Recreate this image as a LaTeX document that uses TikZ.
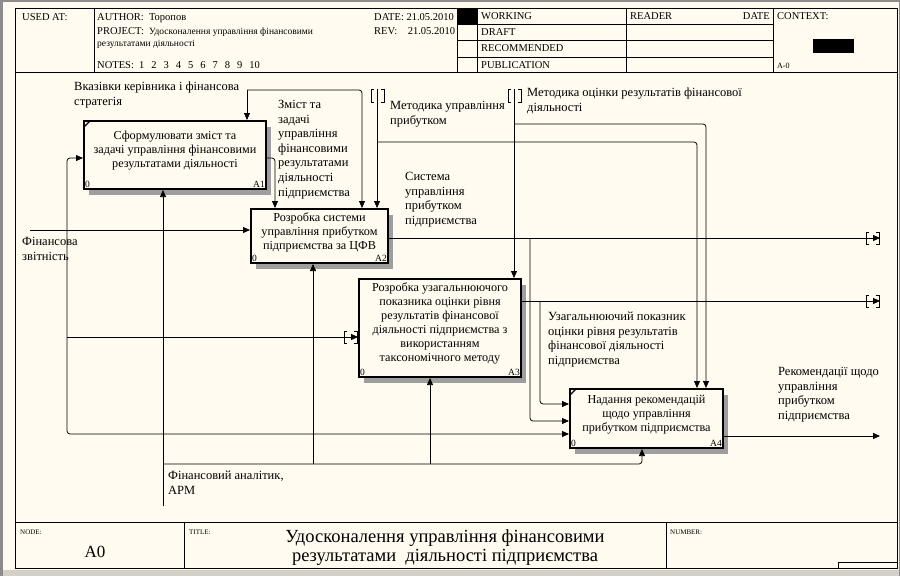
\documentclass[tikz,border=0pt]{standalone}
\usepackage{fontspec}
\setmainfont{Liberation Serif}
\usetikzlibrary{arrows.meta,calc,patterns}
\definecolor{paper}{HTML}{FFFBF0}
\definecolor{winGray}{HTML}{D4D0C8}
\newcommand{\brkV}[1]{%
  \draw[brk] ($(#1)+(-3,0)$) -- ($(#1)+(-6,0)$) -- ($(#1)+(-6,13)$) -- ($(#1)+(-3,13)$);
  \draw[brk] ($(#1)+(4,0)$) -- ($(#1)+(7,0)$) -- ($(#1)+(7,13)$) -- ($(#1)+(4,13)$);}
\newcommand{\brkH}[1]{%
  \draw[brk] ($(#1)+(-11,-6)$) -- ($(#1)+(-14,-6)$) -- ($(#1)+(-14,6)$) -- ($(#1)+(-11,6)$);
  \draw[brk] ($(#1)+(-4,-6)$) -- ($(#1)+(-1,-6)$) -- ($(#1)+(-1,6)$) -- ($(#1)+(-4,6)$);}
\begin{document}
\begin{tikzpicture}[x=1pt,y=-1pt,
  fbox/.style={draw=black,line width=2pt,fill=paper,anchor=north west,inner sep=0pt},
  shadowbox/.style={fill=black!38},
  btext/.style={align=center,font=\fontsize{12.2}{14}\selectfont,inner sep=0pt},
  lbl/.style={align=left,anchor=north west,font=\fontsize{12.5}{14.6}\selectfont,inner sep=0pt},
  corner/.style={font=\fontsize{9.5}{10}\selectfont,inner sep=2pt},
  arr/.style={line width=0.75pt,-{Triangle[length=7pt,width=6pt]},rounded corners=3pt},
  ln/.style={line width=0.75pt,rounded corners=3pt},
  brk/.style={line width=0.9pt},
  hdr/.style={font=\fontsize{10.5}{11}\selectfont,anchor=base west,inner sep=0pt},
  frm/.style={line width=0.9pt}
]
\useasboundingbox (0,0) rectangle (900,576);
\fill[paper] (0,0) rectangle (900,576);
\fill[winGray] (0,570) rectangle (900,576);
\fill[black!45] (0,0) rectangle (3,576);
\fill[black!45] (0,0) rectangle (900,1.5);
\fill[black!45] (898.5,0) rectangle (900,576);

% ---------- frame and header ----------
\draw[frm] (15,8) rectangle (897,568);
\draw[frm] (15,72) -- (897,72);
\draw[frm] (94,8) -- (94,72);
\draw[frm] (457,8) -- (457,72);
\draw[frm] (477,8) -- (477,72);
\draw[frm] (626,8) -- (626,72);
\draw[frm] (773,8) -- (773,72);
\draw[frm] (457,24) -- (773,24);
\draw[frm] (457,40) -- (773,40);
\draw[frm] (457,57) -- (773,57);
\fill[black] (457,8) rectangle (477,24);
\fill[black] (813,39) rectangle (854,53);

\node[hdr] (usedat) at (22,20) {USED AT:};
\node[hdr] (author) at (97,20) {AUTHOR:\ \ Торопов};
\node[hdr] (project) at (97,34) {PROJECT:\ \ {\fontsize{9.5}{10}\selectfont Удосконалення управління фінансовими}};
\node[hdr] (project2) at (97,46) {{\fontsize{9.5}{10}\selectfont результатами діяльності}};
\node[hdr] (notes) at (97,68) {NOTES:\ \ 1\hspace{7pt}2\hspace{7pt}3\hspace{7pt}4\hspace{7pt}5\hspace{7pt}6\hspace{7pt}7\hspace{7pt}8\hspace{7pt}9\hspace{7pt}10};
\node[hdr] (date) at (374,20) {DATE: 21.05.2010};
\node[hdr] (rev) at (374,34) {REV:\ \ \ \ 21.05.2010};
\node[hdr] (working) at (481,19.5) {WORKING};
\node[hdr] (draft) at (481,35) {DRAFT};
\node[hdr] (recom) at (481,51.5) {RECOMMENDED};
\node[hdr] (publ) at (481,68) {PUBLICATION};
\node[hdr] (reader) at (630,19.5) {READER};
\node[hdr,anchor=base east] (rdate) at (770,19.5) {DATE};
\node[hdr] (context) at (777,19.5) {CONTEXT:};
\node[hdr,font=\fontsize{8}{9}\selectfont] (actx) at (777,68) {A-0};

% ---------- footer ----------
\draw[frm] (15,522) -- (897,522);
\draw[frm] (184,522) -- (184,568);
\draw[frm] (666,522) -- (666,568);
\draw[line width=0.6pt] (838,568) -- (838,562) -- (897,562);
\node[hdr,font=\fontsize{7}{8}\selectfont] (nodelbl) at (20,534) {NODE:};
\node[hdr,font=\fontsize{7}{8}\selectfont] (titlelbl) at (189,534) {TITLE:};
\node[hdr,font=\fontsize{7}{8}\selectfont] (numlbl) at (670,534) {NUMBER:};
\node[font=\fontsize{17}{18}\selectfont,anchor=base,inner sep=0pt] (nodeval) at (95,557) {A0};
\node[font=\fontsize{18.5}{19}\selectfont,anchor=base,inner sep=0pt] (title1) at (445,542) {Удосконалення управління фінансовими};
\node[font=\fontsize{18.5}{19}\selectfont,anchor=base,inner sep=0pt] (title2) at (445,561) {результатами\ \ діяльності підприємства};

% ---------- shadows ----------
\fill[shadowbox] (89,127) rectangle (271,195);
\fill[shadowbox] (256,215) rectangle (393,269);
\fill[shadowbox] (364,285) rectangle (526,383);
\fill[shadowbox] (575,395) rectangle (728,454);

% ---------- activity boxes ----------
\node[fbox,minimum width=182pt,minimum height=68pt] (A1) at (83,120) {};
\node[fbox,minimum width=137pt,minimum height=54pt] (A2) at (250,208) {};
\node[fbox,minimum width=162pt,minimum height=98pt] (A3) at (358,278) {};
\node[fbox,minimum width=153pt,minimum height=59pt] (A4) at (569,388) {};

\node[btext] (A1t) at ($(A1.center)+(0,-4)$) {Сформулювати зміст та\\задачі управління фінансовими\\результатами діяльності};
\node[btext] (A2t) at ($(A2.center)+(0,-4)$) {Розробка системи\\управління прибутком\\підприємства за ЦФВ};
\node[btext] (A3t) at ($(A3.center)+(0,-5)$) {Розробка узагальнюючого\\показника оцінки рівня\\результатів фінансової\\діяльності підприємства з\\використанням\\таксономічного методу};
\node[btext] (A4t) at ($(A4.center)+(0,-4)$) {Надання рекомендацій\\щодо управління\\прибутком підприємства};

\foreach \b/\n in {A1/A1,A2/A2,A3/A3,A4/A4}{
  \node[corner,anchor=south west] (\b z) at (\b.south west) {0};
  \node[corner,anchor=south east] (\b n) at (\b.south east) {\n};
}
\draw[line width=1.3pt] ($(A1.north west)+(1,7)$) -- ($(A1.north west)+(7,1)$);
\draw[line width=1.3pt] ($(A4.north west)+(1,7)$) -- ($(A4.north west)+(7,1)$);

% ---------- coordinates ----------
\coordinate (inL) at (30,230);
\coordinate (j1) at (67,230);
\coordinate (j2) at (67,337);
\coordinate (c1) at (247,90);
\coordinate (t1) at (377,89);
\coordinate (j3) at (377,142);
\coordinate (t2) at (514,89);
\coordinate (j4) at (514,124);
\coordinate (o1) at (880,238);
\coordinate (j5) at (530,238);
\coordinate (o2) at (880,301);
\coordinate (j6) at (540,301);
\coordinate (o3) at (880,436);
\coordinate (m1) at (163,506);
\coordinate (j7) at (163,464);
\coordinate (j8) at (313,464);
\coordinate (j9) at (430,464);
\coordinate (a3in) at (A3.west |- 0,337);

% ---------- inputs ----------
\draw[arr] (inL) -- (A2.west |- inL);
\draw[arr] (j1) |- (A1.west |- 0,158);
\draw[arr] (j1) |- (A4.west |- 0,434);
\draw[arr] (j2) -- (a3in);
\brkH{a3in}

% ---------- controls ----------
\draw[arr] (c1) -- (A1.north -| c1);
\draw[arr] (c1) -| (A2.north -| 362,0);
\draw[arr] (A1.east |- 0,158) -| (A2.north -| 275,0);
\draw[arr] (t1) -- (A2.north -| t1);
\brkV{t1}
\draw[arr] (j3) -| (A4.north -| 697,0);
\draw[arr] (t2) -- (A3.north -| t2);
\brkV{t2}
\draw[arr] (j4) -| (A4.north -| 706,0);

% ---------- outputs ----------
\draw[arr] (A2.east |- o1) -- (o1);
\brkH{o1}
\draw[arr] (j5) |- (A4.west |- 0,421);
\draw[arr] (A3.east |- o2) -- (o2);
\brkH{o2}
\draw[arr] (j6) |- (A4.west |- 0,404);
\draw[arr] (A4.east |- o3) -- (o3);

% ---------- mechanisms ----------
\draw[arr] (m1) -- (A1.south -| m1);
\draw[arr] (j7) -| (A4.south -| 642,0);
\draw[arr] (j8) -- (A2.south -| j8);
\draw[arr] (j9) -- (A3.south -| j9);

% ---------- labels ----------
\node[lbl] (l1) at (74,82) {Вказівки керівника і фінансова\\стратегія};
\node[lbl] (l2) at (278,100) {Зміст та\\задачі\\управління\\фінансовими\\результатами\\діяльності\\підприємства};
\node[lbl] (l3) at (390,101) {Методика управління\\прибутком};
\node[lbl] (l4) at (527,88) {Методика оцінки результатів фінансової\\діяльності};
\node[lbl] (l5) at (405,172) {Система\\управління\\прибутком\\підприємства};
\node[lbl] (l6) at (548,312) {Узагальнюючий показник\\оцінки рівня результатів\\фінансової діяльності\\підприємства};
\node[lbl] (l7) at (778,367) {Рекомендації щодо\\управління\\прибутком\\підприємства};
\node[lbl] (l8) at (168,471) {Фінансовий аналітик,\\АРМ};
\node[lbl] (l9) at (22,237) {Фінансова\\звітність};
\end{tikzpicture}
\end{document}
